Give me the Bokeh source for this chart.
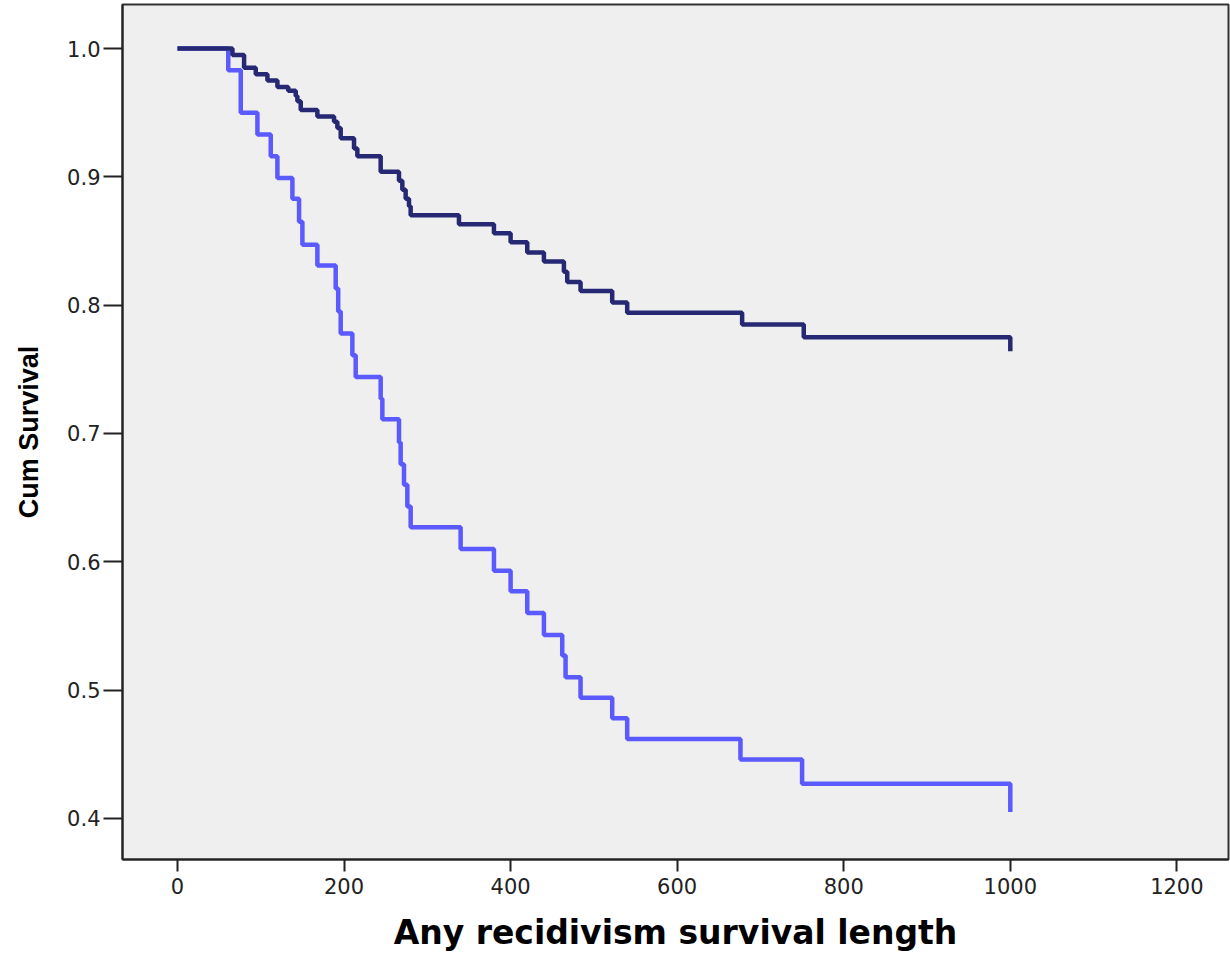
from bokeh.plotting import figure
from bokeh.embed import file_html
from bokeh.resources import INLINE
from bokeh.models import Range1d, FixedTicker

# Group 1 (dark navy): event times and cumulative survival after each step
dark_time = [0, 66, 80, 94, 108, 120, 133, 142, 144, 148, 168, 188, 192, 196,
             212, 216, 244, 266, 270, 274, 278, 280, 338, 380, 400, 420, 440,
             464, 468, 484, 522, 540, 678, 752, 1000]
dark_surv = [1.0, 0.995, 0.985, 0.980, 0.975, 0.970, 0.967, 0.963, 0.959, 0.952,
             0.947, 0.943, 0.938, 0.930, 0.922, 0.916, 0.904, 0.897, 0.890, 0.883,
             0.877, 0.870, 0.863, 0.856, 0.849, 0.841, 0.834, 0.826, 0.818, 0.811,
             0.802, 0.794, 0.785, 0.775, 0.764]

# Group 2 (light blue)
light_time = [0, 61, 76, 96, 112, 120, 138, 146, 150, 168, 190, 193, 196, 210,
              214, 244, 246, 266, 268, 272, 276, 280, 340, 380, 400, 420, 440,
              462, 466, 484, 522, 540, 676, 750, 1000]
light_surv = [1.0, 0.983, 0.950, 0.933, 0.916, 0.899, 0.883, 0.865, 0.847, 0.831,
              0.813, 0.795, 0.778, 0.761, 0.744, 0.727, 0.711, 0.693, 0.676, 0.660,
              0.643, 0.627, 0.610, 0.593, 0.577, 0.560, 0.543, 0.527, 0.510, 0.494,
              0.478, 0.462, 0.446, 0.427, 0.405]

x_ticks = [0, 200, 400, 600, 800, 1000, 1200]
y_ticks = [0.4, 0.5, 0.6, 0.7, 0.8, 0.9, 1.0]
y_tick_labels = ["0.4", "0.5", "0.6", "0.7", "0.8", "0.9", "1.0"]

p = figure(width=1230, height=958, output_backend="svg", toolbar_location=None,
           x_range=Range1d(-66, 1262), y_range=Range1d(0.368, 1.0343),
           min_border_left=122, min_border_right=2, min_border_top=4, min_border_bottom=99)

p.background_fill_color = "#efefef"
p.border_fill_color = "white"
p.outline_line_color = "#333333"
p.outline_line_width = 2
p.xgrid.visible = False
p.ygrid.visible = False

p.step(light_time, light_surv, mode="after", line_color="#5a5aff", line_width=4.5)
p.step(dark_time, dark_surv, mode="after", line_color="#262873", line_width=4.5)

p.xaxis.ticker = FixedTicker(ticks=x_ticks)
p.yaxis.ticker = FixedTicker(ticks=y_ticks)
p.yaxis.major_label_overrides = {t: l for t, l in zip(y_ticks, y_tick_labels)}

for ax in (p.xaxis[0], p.yaxis[0]):
    ax.axis_line_color = "#222222"
    ax.axis_line_width = 2
    ax.major_tick_line_color = "#222222"
    ax.major_tick_line_width = 2
    ax.major_tick_in = 0
    ax.minor_tick_line_color = None
    ax.major_label_text_font = "DejaVu Sans"
    ax.major_label_text_color = "#222222"
    ax.axis_label_text_font_style = "bold"
    ax.axis_label_text_color = "black"

p.xaxis.major_tick_out = 12
p.yaxis.major_tick_out = 19
p.xaxis.major_label_text_font_size = "21px"
p.yaxis.major_label_text_font_size = "21px"
p.xaxis.major_label_standoff = 6
p.yaxis.major_label_standoff = 3

p.xaxis.axis_label = "Any recidivism survival length"
p.xaxis.axis_label_text_font = "DejaVu Sans"
p.xaxis.axis_label_text_font_size = "33px"
p.xaxis.axis_label_standoff = 16

p.yaxis.axis_label = "Cum Survival"
p.yaxis.axis_label_text_font = "Liberation Sans"
p.yaxis.axis_label_text_font_size = "27px"
p.yaxis.axis_label_standoff = 20

open("out.html", "w").write(file_html(p, INLINE))
